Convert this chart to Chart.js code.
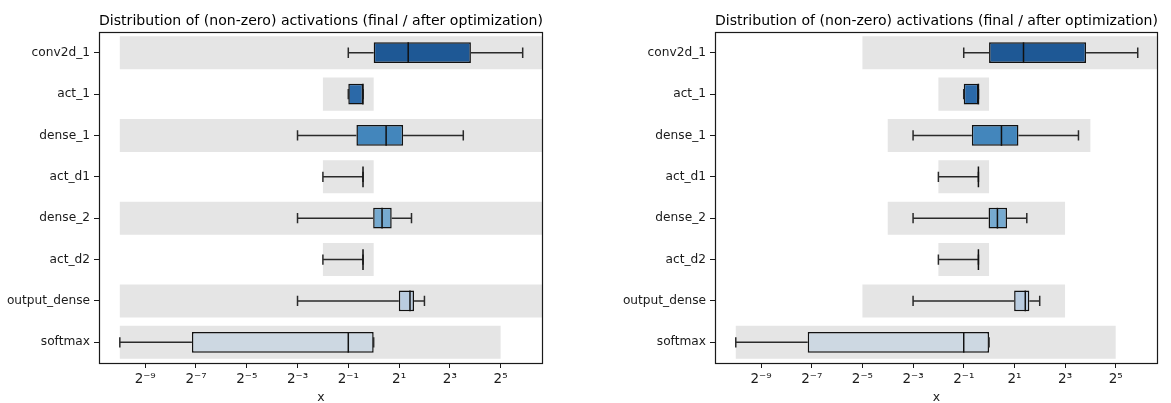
<!DOCTYPE html>
<html><head><meta charset="utf-8">
<script src="https://cdn.jsdelivr.net/npm/chart.js@4.4.1/dist/chart.umd.min.js"></script>
<style>
html,body{margin:0;padding:0;background:#fff;}
#wrap{position:relative;width:1171px;height:403px;overflow:hidden;}
.c{position:absolute;top:0;height:403px;}
</style></head><body>
<div id="wrap">
<div class="c" style="left:0;width:585px"><canvas id="leftChart"></canvas></div>
<div class="c" style="left:585px;width:586px"><canvas id="rightChart"></canvas></div>
</div>
<script>
// ---- data (values are log2 exponents; real value = 2^exp) ----
const categories = ['conv2d_1','act_1','dense_1','act_d1','dense_2','act_d2','output_dense','softmax'];
const tickExponents = [-9,-7,-5,-3,-1,1,3,5];
const tickLabels = ['2⁻⁹','2⁻⁷','2⁻⁵','2⁻³','2⁻¹','2¹','2³','2⁵'];
const whiskerLowExp  = [-1,   -1,    -3,    -2,    -3,    -2,    -3,   -10];
const q1Exp          = [ 0,   -1,    -0.68, -0.42, -0.02, -0.42,  0.99, -7.16];
const medianExp      = [ 1.36,-0.42,  0.49, -0.42,  0.33, -0.42,  1.43, -1];
const q3Exp          = [ 3.83,-0.42,  1.16, -0.42,  0.71, -0.42,  1.59,  0];
const whiskerHighExp = [ 5.87,-0.42,  3.53, -0.42,  1.49, -0.42,  2.0,   0];
const bandLowLeftExp   = [-10, -2, -10, -2, -10, -2, -10, -10];
const bandHighLeftExp  = [  8,  0,   8,  0,   8,  0,   8,   5];
const bandLowRightExp  = [ -5, -2,  -4, -2,  -4, -2,  -5, -10];
const bandHighRightExp = [  8,  0,   4,  0,   3,  0,   3,   5];
const boxColors = ['#1e5895','#2b69a8','#4386bc','#7aafd3','#76aad0','#7aafd3','#b9cce0','#cdd8e2'];
const titleText = 'Distribution of (non-zero) activations (final / after optimization)';
const xTitle = 'x';
const xMinExp = -10.82, xMaxExp = 6.67;

Chart.defaults.font.family = "'DejaVu Sans', sans-serif";
const p2 = e => Math.pow(2, e);

const boxParts = {
  id: 'boxParts',
  afterDatasetsDraw(chart) {
    const {ctx, chartArea: a} = chart;
    const x = chart.scales.x, y = chart.scales.y;
    const step = y.getPixelForValue(1) - y.getPixelForValue(0);
    const px = e => x.getPixelForValue(p2(e));
    ctx.save();
    ctx.beginPath(); ctx.rect(a.left, a.top, a.right - a.left, a.bottom - a.top); ctx.clip();
    categories.forEach((c, i) => {
      const cy = y.getPixelForValue(i);
      const capH = step * 0.125, boxH = step * 0.25;
      ctx.strokeStyle = '#2a2a2a'; ctx.lineWidth = 1.5;
      ctx.beginPath();
      ctx.moveTo(px(whiskerLowExp[i]), cy); ctx.lineTo(px(q1Exp[i]), cy);
      ctx.moveTo(px(q3Exp[i]), cy); ctx.lineTo(px(whiskerHighExp[i]), cy);
      ctx.moveTo(px(whiskerLowExp[i]), cy - capH); ctx.lineTo(px(whiskerLowExp[i]), cy + capH);
      ctx.moveTo(px(whiskerHighExp[i]), cy - capH); ctx.lineTo(px(whiskerHighExp[i]), cy + capH);
      ctx.stroke();
      ctx.strokeStyle = '#111'; ctx.lineWidth = 1.5;
      ctx.beginPath();
      ctx.moveTo(px(medianExp[i]), cy - boxH); ctx.lineTo(px(medianExp[i]), cy + boxH);
      if (q1Exp[i] === q3Exp[i]) { ctx.moveTo(px(q1Exp[i]), cy - boxH); ctx.lineTo(px(q1Exp[i]), cy + boxH); }
      ctx.stroke();
    });
    ctx.restore();
  },
  afterDraw(chart) {
    const {ctx, chartArea: a} = chart;
    ctx.save();
    ctx.strokeStyle = '#1a1a1a'; ctx.lineWidth = 1.2;
    ctx.strokeRect(Math.round(a.left) + 0.5, Math.round(a.top) + 0.5, Math.round(a.right - a.left) - 1, Math.round(a.bottom - a.top));
    ctx.restore();
  }
};

function makeChart(id, bandLow, bandHigh, yWidth, rightPad) {
  return new Chart(document.getElementById(id), {
    type: 'bar',
    data: {
      labels: categories,
      datasets: [
        {
          label: 'box',
          data: categories.map((c, i) => [p2(q1Exp[i]), p2(q3Exp[i])]),
          backgroundColor: boxColors,
          borderColor: '#111',
          borderWidth: 1.5,
          borderSkipped: false,
          grouped: false,
          categoryPercentage: 1,
          barPercentage: 0.5,
          order: 0
        },
        {
          label: 'range',
          data: categories.map((c, i) => [p2(bandLow[i]), p2(bandHigh[i])]),
          backgroundColor: '#e5e5e5',
          borderWidth: 0,
          grouped: false,
          categoryPercentage: 1,
          barPercentage: 0.8,
          order: 1
        }
      ]
    },
    options: {
      indexAxis: 'y',
      responsive: true,
      maintainAspectRatio: false,
      animation: false,
      layout: {padding: {left: 0, right: rightPad, top: 0, bottom: 0}},
      plugins: {
        legend: {display: false},
        tooltip: {enabled: false},
        title: {
          display: true, text: titleText, color: '#000', fullSize: false,
          font: {size: 14.6, weight: 'normal'},
          padding: {top: 12, bottom: 2.5}
        }
      },
      scales: {
        x: {
          type: 'logarithmic',
          min: p2(xMinExp), max: p2(xMaxExp),
          afterBuildTicks: s => { s.ticks = tickExponents.map(e => ({value: p2(e), major: false})); },
          afterFit: s => { s.height = 40; },
          ticks: {callback: (v, i) => tickLabels[i], autoSkip: false, maxRotation: 0, minRotation: 0,
                  padding: 3, color: '#1a1a1a', font: {size: 13.5}},
          grid: {drawOnChartArea: false, drawTicks: true, tickLength: 5, color: '#1a1a1a'},
          border: {display: false},
          title: {display: true, text: xTitle, color: '#1a1a1a', font: {size: 12.5}, padding: {top: 0, bottom: -2}}
        },
        y: {
          type: 'category',
          offset: true,
          afterFit: s => { s.width = yWidth; },
          ticks: {padding: 4, color: '#1a1a1a', font: {size: 12.2}, autoSkip: false},
          grid: {offset: false, drawOnChartArea: false, drawTicks: true, tickLength: 5, color: '#1a1a1a'},
          border: {display: false}
        }
      }
    },
    plugins: [boxParts]
  });
}

makeChart('leftChart', bandLowLeftExp, bandHighLeftExp, 99, 42);
makeChart('rightChart', bandLowRightExp, bandHighRightExp, 130, 13);
</script>
</body></html>
